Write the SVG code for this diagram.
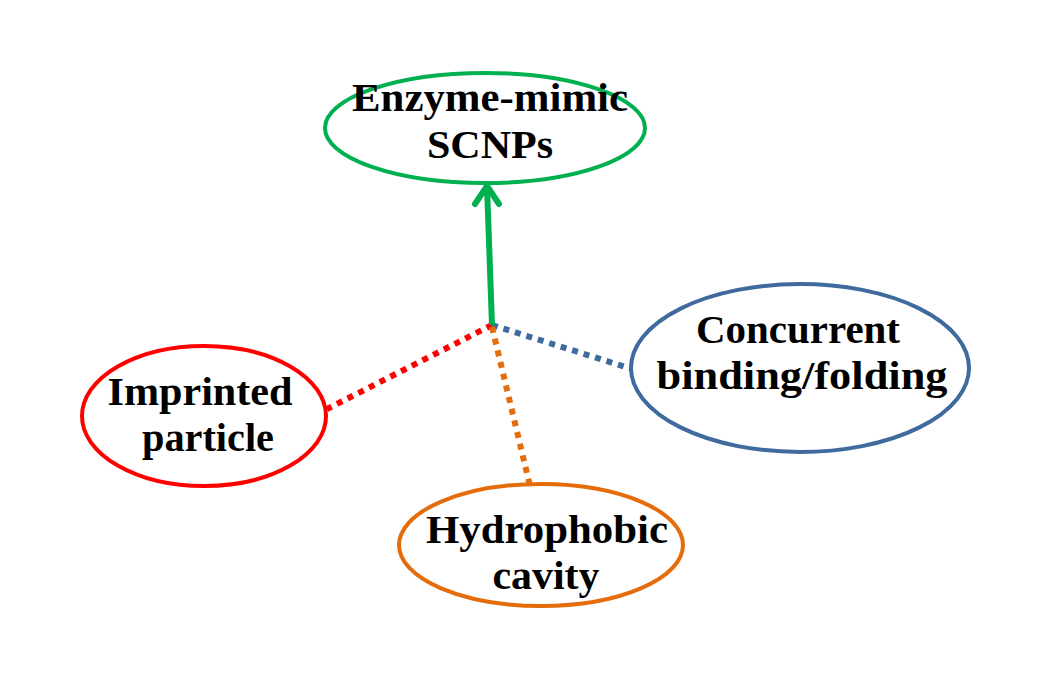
<svg xmlns="http://www.w3.org/2000/svg" width="1054" height="691" viewBox="0 0 1054 691">
<style>
.lbl{font-family:"Liberation Serif","DejaVu Serif",serif;font-weight:bold;font-size:41px;fill:#000;text-anchor:middle}
.node{fill:#fff;stroke-width:4}
.dot{fill:none;stroke-width:6;stroke-dasharray:6 6}
</style>
<rect width="1054" height="691" fill="#fff"/>
<g id="connectors">
<line class="dot" x1="492" y1="325" x2="327" y2="409" stroke="#FF0000"/>
<line class="dot" x1="492" y1="325" x2="632" y2="369" stroke="#3F6A9E"/>
<line class="dot" x1="492" y1="327" x2="530" y2="486" stroke="#E46C0A"/>
<line x1="492" y1="325" x2="487" y2="186" stroke="#00B050" stroke-width="6"/>
<polyline points="475,204 487,186 499,204" fill="none" stroke="#00B050" stroke-width="6" stroke-linecap="round" stroke-linejoin="round"/>
</g>
<g id="enzyme">
<ellipse class="node" cx="485" cy="128" rx="160" ry="55" stroke="#00B050"/>
<text class="lbl" x="490" y="111" textLength="276" lengthAdjust="spacingAndGlyphs">Enzyme-mimic</text>
<text class="lbl" x="490" y="158" textLength="126" lengthAdjust="spacingAndGlyphs">SCNPs</text>
</g>
<g id="imprinted">
<ellipse class="node" cx="204" cy="416" rx="122" ry="70" stroke="#FF0000"/>
<text class="lbl" x="200" y="405" textLength="185" lengthAdjust="spacingAndGlyphs">Imprinted</text>
<text class="lbl" x="208" y="451" textLength="132" lengthAdjust="spacingAndGlyphs">particle</text>
</g>
<g id="concurrent">
<ellipse class="node" cx="800" cy="368" rx="169" ry="84" stroke="#3F6A9E"/>
<text class="lbl" x="798" y="343" textLength="204" lengthAdjust="spacingAndGlyphs">Concurrent</text>
<text class="lbl" x="802" y="389" textLength="291" lengthAdjust="spacingAndGlyphs">binding/folding</text>
</g>
<g id="hydrophobic">
<ellipse class="node" cx="541" cy="545" rx="142" ry="61" stroke="#E46C0A"/>
<text class="lbl" x="547" y="543" textLength="242" lengthAdjust="spacingAndGlyphs">Hydrophobic</text>
<text class="lbl" x="546" y="589" textLength="107" lengthAdjust="spacingAndGlyphs">cavity</text>
</g>
</svg>
